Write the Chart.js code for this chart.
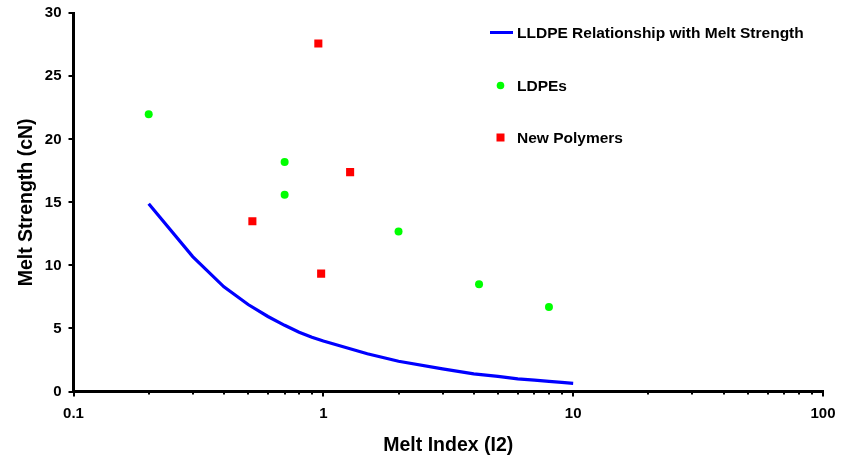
<!DOCTYPE html>
<html lang="en">
  <head>
    <meta charset="UTF-8" />
    <title>Melt Strength vs Melt Index</title>
    <script src="https://cdn.jsdelivr.net/npm/chart.js"></script>
    <style>
      html, body { margin: 0; padding: 0; background: #fff; }
      .chart-box { width: 842px; height: 457px; position: relative; }
    </style>
  </head>
  <body>
    <div class="chart-box"><canvas id="myChart"></canvas></div>
    <script>
      // LLDPE relationship curve
      const lldpeIndex = [0.2, 0.3, 0.4, 0.5, 0.6, 0.7, 0.8, 0.9, 1, 1.5, 2, 3, 4, 5, 6, 7, 8, 9, 10];
      const lldpeStrength = [14.9, 10.7, 8.3, 6.9, 5.95, 5.25, 4.7, 4.3, 4.0, 3.0, 2.4, 1.8, 1.4, 1.2, 1.0, 0.9, 0.8, 0.72, 0.65];

      // LDPE samples
      const ldpeIndex = [0.2, 0.7, 0.7, 2, 4.2, 8];
      const ldpeStrength = [22, 18.2, 15.6, 12.7, 8.5, 6.7];

      // new polymers
      const newIndex = [0.955, 0.52, 1.28, 0.98];
      const newStrength = [27.6, 13.5, 17.4, 9.35];

      const xDecades = [0.1, 1, 10, 100];
      const xLabels = ["0.1", "1", "10", "100"];
      const yTicks = [0, 5, 10, 15, 20, 25, 30];

      const seriesNames = ["LLDPE Relationship with Melt Strength", "LDPEs", "New Polymers"];

      const FONT = "'Liberation Sans', Arial, sans-serif";

      // decade ticks plus 2..9 in between
      const xAllTicks = [];
      xDecades.forEach((d, i) => {
        xAllTicks.push(d);
        if (i < xDecades.length - 1) {
          for (let m = 2; m <= 9; m++) xAllTicks.push(+(d * m).toPrecision(3));
        }
      });

      const toPts = (xs, ys) => xs.map((x, i) => ({ x: x, y: ys[i] }));

      // keep label overflow out of the layout, the outer padding handles it
      const noOverflow = (scale) => {
        scale.paddingTop = 0;
        scale.paddingBottom = 0;
        scale.paddingLeft = 0;
        scale.paddingRight = 0;
      };

      // tick marks on both axes
      const tickMarks = {
        id: "tickMarks",
        afterDraw(chart) {
          const ctx = chart.ctx;
          const xs = chart.scales.x, ys = chart.scales.y;
          const area = chart.chartArea;
          ctx.save();
          ctx.strokeStyle = "#000";
          ctx.lineWidth = 2;
          xAllTicks.forEach(v => {
            const px = Math.round(xs.getPixelForValue(v));
            const len = xDecades.includes(v) ? 5 : 3;
            ctx.beginPath();
            ctx.moveTo(px, area.bottom);
            ctx.lineTo(px, area.bottom + len);
            ctx.stroke();
          });
          yTicks.forEach(v => {
            const py = Math.round(ys.getPixelForValue(v));
            ctx.beginPath();
            ctx.moveTo(area.left, py);
            ctx.lineTo(area.left - 5, py);
            ctx.stroke();
          });
          ctx.restore();
        }
      };

      // legend stacked at the upper right of the plot
      const sideLegend = {
        id: "sideLegend",
        afterDraw(chart) {
          const ctx = chart.ctx;
          const ds = chart.data.datasets;
          const rows = [32.5, 85.5, 137.5];
          const markX = 500.5, textX = 517;
          ctx.save();
          ctx.font = "bold 15.5px " + FONT;
          ctx.textBaseline = "middle";
          ds.forEach((d, i) => {
            const y = rows[i];
            if (d.type === "line") {
              ctx.strokeStyle = d.borderColor;
              ctx.lineWidth = 3;
              ctx.beginPath();
              ctx.moveTo(490, y);
              ctx.lineTo(513, y);
              ctx.stroke();
            } else if (d.pointStyle === "rect") {
              ctx.fillStyle = d.backgroundColor;
              ctx.fillRect(markX - 4, y - 4, 8, 8);
            } else {
              ctx.fillStyle = d.backgroundColor;
              ctx.beginPath();
              ctx.arc(markX, y, 3.8, 0, Math.PI * 2);
              ctx.fill();
            }
            ctx.fillStyle = "#000";
            ctx.fillText(d.label, textX, y + 1);
          });
          ctx.restore();
        }
      };

      const ctx = document.getElementById("myChart");

      new Chart(ctx, {
        type: "scatter",
        data: {
          datasets: [
            {
              type: "line",
              label: seriesNames[0],
              data: toPts(lldpeIndex, lldpeStrength),
              borderColor: "#0000FF",
              borderWidth: 3.2,
              pointRadius: 0,
              tension: 0,
              fill: false
            },
            {
              label: seriesNames[1],
              data: toPts(ldpeIndex, ldpeStrength),
              backgroundColor: "#00FF00",
              borderWidth: 0,
              pointStyle: "circle",
              pointRadius: 4
            },
            {
              label: seriesNames[2],
              data: toPts(newIndex, newStrength),
              backgroundColor: "#FF0000",
              borderWidth: 0,
              pointStyle: "rect",
              pointRadius: 5.7
            }
          ]
        },
        options: {
          responsive: true,
          maintainAspectRatio: false,
          animation: false,
          layout: { padding: { top: 13.3, right: 19, bottom: 0, left: 0 } },
          plugins: {
            legend: { display: false },
            tooltip: { enabled: false }
          },
          scales: {
            x: {
              type: "logarithmic",
              min: 0.1,
              max: 100,
              afterBuildTicks: (scale) => {
                scale.ticks = xAllTicks.map(v => ({ value: v, major: xDecades.includes(v) }));
              },
              afterFit: (scale) => { scale.height = 65.5; noOverflow(scale); },
              grid: { display: true, drawOnChartArea: false, drawTicks: false, color: "rgba(0,0,0,0)" },
              border: { display: true, color: "#000", width: 3 },
              ticks: {
                autoSkip: false,
                maxRotation: 0,
                padding: 13,
                color: "#000",
                font: { family: FONT, size: 15, weight: "bold" },
                callback: (v) => {
                  const i = xDecades.indexOf(v);
                  return i >= 0 ? xLabels[i] : "";
                }
              },
              title: {
                display: true,
                text: "Melt Index (I2)",
                color: "#000",
                font: { family: FONT, size: 19.5, weight: "bold" },
                padding: { top: 0, bottom: 0 }
              }
            },
            y: {
              min: 0,
              max: 30,
              afterBuildTicks: (scale) => {
                scale.ticks = yTicks.map(v => ({ value: v }));
              },
              afterFit: (scale) => { scale.width = 73.5; noOverflow(scale); },
              grid: { display: true, drawOnChartArea: false, drawTicks: false, color: "rgba(0,0,0,0)" },
              border: { display: true, color: "#000", width: 3 },
              ticks: {
                padding: 12,
                color: "#000",
                font: { family: FONT, size: 15, weight: "bold" }
              },
              title: {
                display: true,
                text: "Melt Strength (cN)",
                color: "#000",
                font: { family: FONT, size: 19.5, weight: "bold" },
                padding: { top: 14.5, bottom: 0 }
              }
            }
          }
        },
        plugins: [tickMarks, sideLegend]
      });
    </script>
  </body>
</html>
